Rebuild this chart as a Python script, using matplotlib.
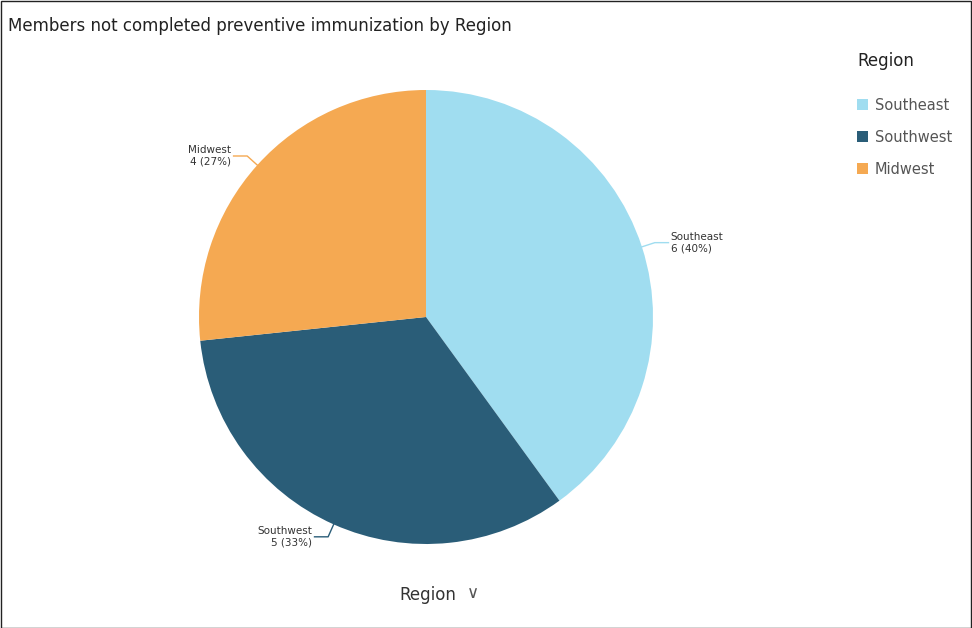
import numpy as np
import matplotlib
matplotlib.use("Agg")
import matplotlib.pyplot as plt
from matplotlib.patches import Rectangle

categories = ["Southeast", "Southwest", "Midwest"]
values = [6, 5, 4]
colors = ["#a0ddf0", "#2a5d78", "#f5a952"]

W, H = 972, 628
fig = plt.figure(figsize=(W/100, H/100), dpi=100)
fig.patches.append(Rectangle((0.5/W, 0.5/H), 1-1.5/W, 1-1.5/H, transform=fig.transFigure,
                             fill=False, edgecolor="#222222", lw=1))
cx, cy, r = 426, 317, 227
ax = fig.add_axes([(cx-r)/W, (H-cy-r)/H, 2*r/W, 2*r/H])
wedges, _ = ax.pie(values, colors=colors, startangle=90, counterclock=False,
                   wedgeprops=dict(linewidth=0))
ax.set_xlim(-1, 1); ax.set_ylim(-1, 1); ax.set_aspect("equal")
total = sum(values)
for w, cat, v, c in zip(wedges, categories, values, colors):
    ang = np.deg2rad((w.theta1 + w.theta2) / 2)
    x0, y0 = np.cos(ang), np.sin(ang)
    x1, y1 = 1.06*x0, 1.06*y0
    s = 1 if x0 > 0 else -1
    x2 = x1 + s*0.06
    ax.plot([x0, x1, x2], [y0, y1, y1], color=c, lw=1, clip_on=False)
    ax.text(x2 + s*0.01, y1, f"{cat}\n{v} ({round(100*v/total)}%)", fontsize=7.5,
            ha="left" if s > 0 else "right", va="center", color="#333333",
            multialignment="left" if s > 0 else "right")

fig.text(8/W, 1-26/H, "Members not completed preventive immunization by Region",
         fontsize=12, va="center", ha="left", color="#222222")
fig.text(857/W, 1-61/H, "Region", fontsize=12, va="center", color="#222222")
for i, (cat, c) in enumerate(zip(categories, colors)):
    y = 105 + 32*i
    fig.patches.append(Rectangle((857/W, 1-(y+5)/H), 11/W, 11/H, transform=fig.transFigure,
                                 facecolor=c, edgecolor="none"))
    fig.text(875/W, 1-y/H, cat, fontsize=10.5, va="center", color="#555555")
fig.text(428/W, 1-595/H, "Region", fontsize=12, va="center", ha="center", color="#333333")
fig.text(473/W, 1-593/H, "∨", fontsize=12, va="center", ha="center", color="#555555")
fig.savefig("out.png", dpi=100)
